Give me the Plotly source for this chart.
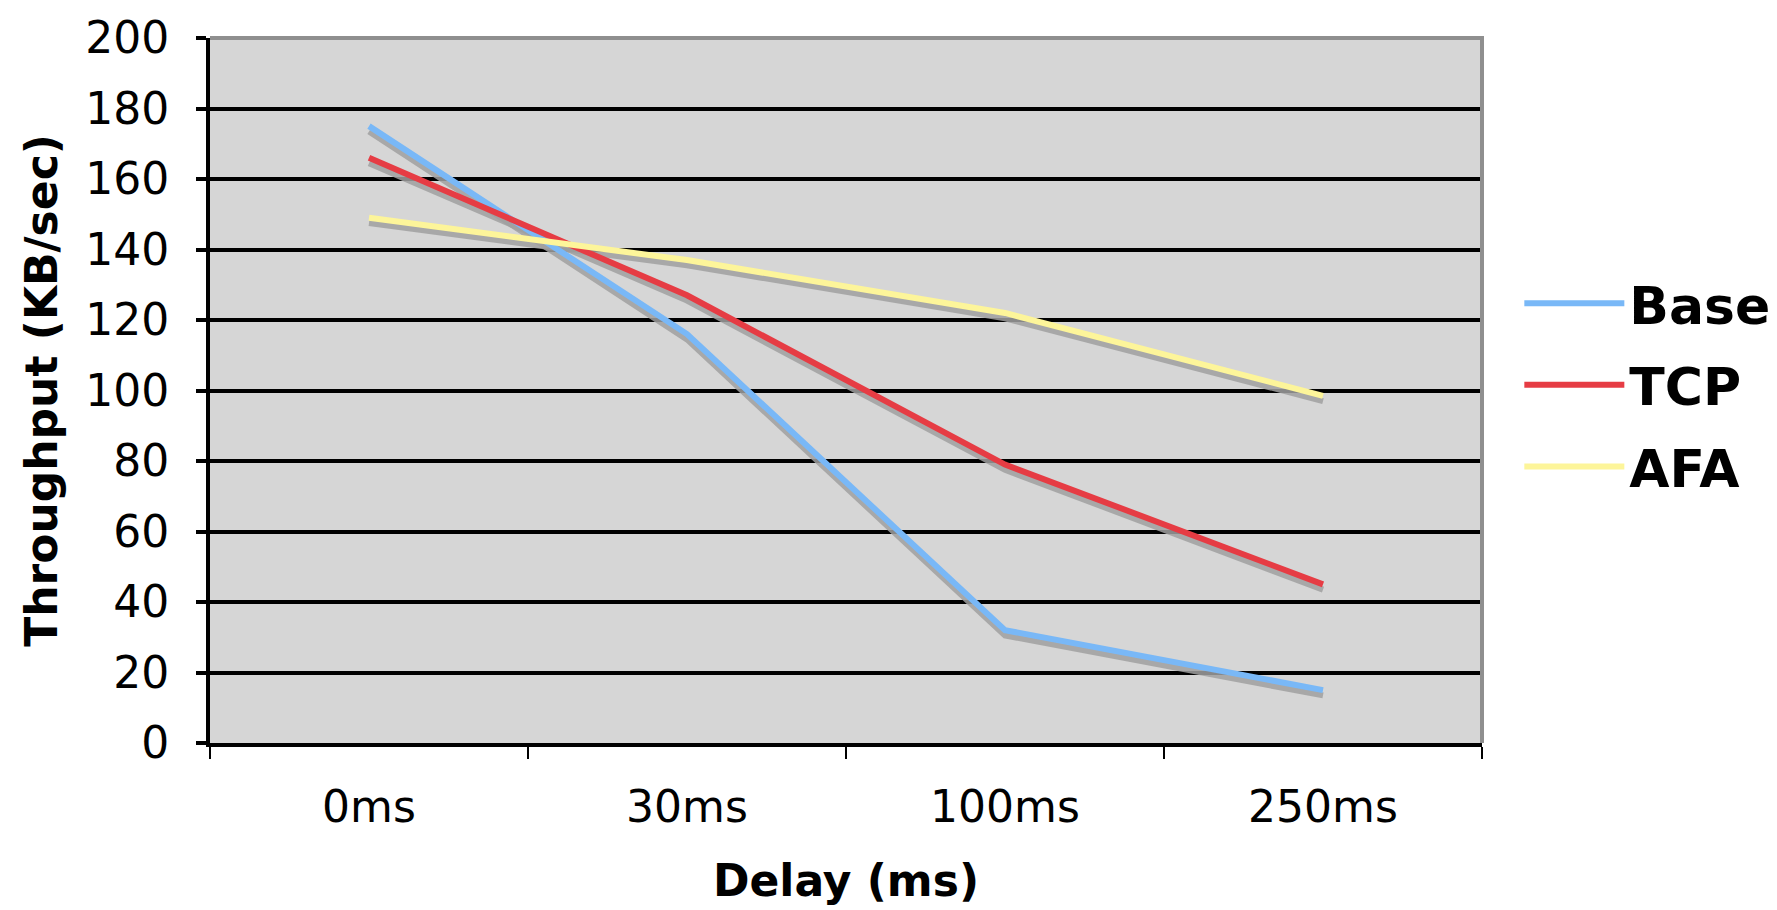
import plotly.graph_objects as go

categories = ["0ms", "30ms", "100ms", "250ms"]
base = [175, 116, 32, 15]
tcp = [166, 127, 79, 45]
afa = [149, 137, 122, 98.5]

series_names = ["Base", "TCP", "AFA"]
series_values = [base, tcp, afa]
series_colors = ["#79b8f7", "#e63c44", "#fdf59a"]

FONT = "DejaVu Sans"
shadow_shift = 1.5  # y units, drop-shadow offset (downwards)

fig = go.Figure()

# anchor trace for the visible axis (no visible marks)
fig.add_trace(go.Scatter(
    x=categories, y=base, mode="lines", yaxis="y",
    line=dict(color="rgba(0,0,0,0)", width=0),
    showlegend=False, hoverinfo="skip"))

# drop shadows (overlay axis shifted slightly)
for name, vals in zip(series_names, series_values):
    fig.add_trace(go.Scatter(
        x=categories, y=vals, mode="lines", yaxis="y2",
        line=dict(color="rgba(160,160,160,0.85)", width=6),
        showlegend=False, hoverinfo="skip"))

for name, vals, col in zip(series_names, series_values, series_colors):
    fig.add_trace(go.Scatter(
        x=categories, y=vals, mode="lines", name="<b>" + name + "</b>",
        yaxis="y3", legendgroup=name,
        line=dict(color=col, width=6)))

fig.update_layout(
    width=1777, height=910,
    paper_bgcolor="white",
    plot_bgcolor="#d6d6d6",
    margin=dict(l=210, r=295, t=32, b=158),
    font=dict(family=FONT, color="black"),
    xaxis=dict(
        type="category", tickson="boundaries",
        showgrid=False, showline=True, linecolor="black", linewidth=4,
        ticks="outside", ticklen=12, tickwidth=2, tickcolor="black",
        tickfont=dict(size=44, family=FONT), ticklabelstandoff=22,
        title=dict(text="<b>Delay (ms)</b>", font=dict(size=44, family=FONT), standoff=35),
        range=[-0.5, 3.5],
    ),
    yaxis=dict(
        range=[0, 200], dtick=20, tick0=0,
        showgrid=True, gridcolor="black", gridwidth=4,
        showline=True, linecolor="black", linewidth=4,
        ticks="outside", ticklen=10, tickwidth=4, tickcolor="black",
        tickfont=dict(size=44, family=FONT), ticklabelstandoff=18,
        title=dict(text="<b>Throughput (KB/sec)</b>", font=dict(size=44, family=FONT), standoff=15),
        zeroline=False,
    ),
    yaxis2=dict(range=[0 + shadow_shift, 200 + shadow_shift], overlaying="y",
                visible=False),
    yaxis3=dict(range=[0, 200], overlaying="y", visible=False),
    legend=dict(
        xref="container", yref="container",
        x=0.855, y=0.577, xanchor="left", yanchor="middle",
        font=dict(size=52, family=FONT),
        itemwidth=100, bgcolor="rgba(0,0,0,0)",
        tracegroupgap=11,
    ),
    shapes=[dict(type="path", xref="paper", yref="paper",
                 path="M 0,1 L 1,1 L 1,0",
                 line=dict(color="#8f8f8f", width=4), layer="above")],
)

fig.write_html("out.html", config={"displayModeBar": False},
               post_script="document.body.style.margin='0';")
